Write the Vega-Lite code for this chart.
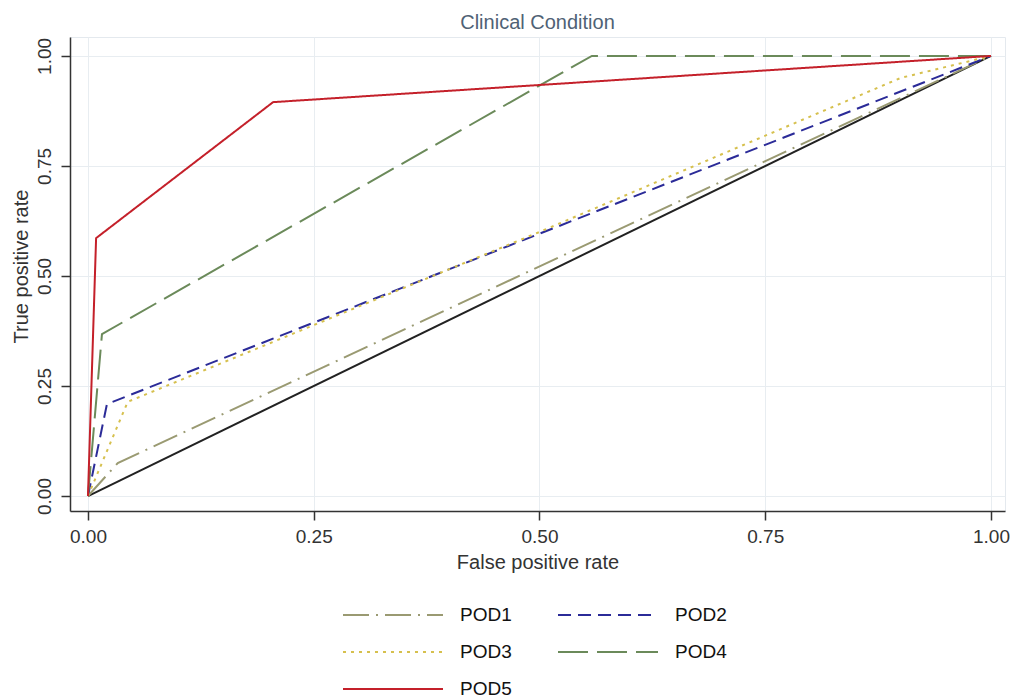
{
  "$schema": "https://vega.github.io/schema/vega-lite/v6.json",
  "width": 935,
  "height": 474,
  "autosize": {"type": "none"},
  "padding": {"left": 70, "top": 37, "right": 9, "bottom": 188},
  "background": "white",
  "title": {
    "text": "Clinical Condition",
    "fontSize": 20,
    "fontWeight": "normal",
    "color": "#4f6275",
    "font": "Liberation Sans",
    "anchor": "middle",
    "frame": "group",
    "baseline": "alphabetic",
    "offset": 9,
    "dy": 21
  },
  "config": {
    "font": "Liberation Sans",
    "view": {"stroke": "#e4e9ee", "strokeWidth": 1}
  },
  "encoding": {
    "x": {
      "field": "fpr",
      "type": "quantitative",
      "scale": {"domain": [-0.0199, 1.0155], "nice": false, "zero": false},
      "axis": {
        "title": "False positive rate",
        "values": [0, 0.25, 0.5, 0.75, 1],
        "format": ".2f",
        "grid": true,
        "gridColor": "#e8edf1",
        "gridWidth": 1,
        "domainColor": "#333333",
        "domainWidth": 1.5,
        "tickColor": "#333333",
        "tickWidth": 1.5,
        "tickSize": 9,
        "labelFlush": false,
        "labelFontSize": 19,
        "labelColor": "#333333",
        "labelPadding": 7,
        "labelBaseline": "top",
        "titleFontSize": 20,
        "titleFontWeight": "normal",
        "titleColor": "#333333",
        "titleY": 57,
        "titleBaseline": "alphabetic"
      }
    },
    "y": {
      "field": "tpr",
      "type": "quantitative",
      "scale": {"domain": [-0.034, 1.043], "nice": false, "zero": false},
      "axis": {
        "title": "True positive rate",
        "values": [0, 0.25, 0.5, 0.75, 1],
        "format": ".2f",
        "grid": true,
        "gridColor": "#e8edf1",
        "gridWidth": 1,
        "domainColor": "#333333",
        "domainWidth": 1.5,
        "tickColor": "#333333",
        "tickWidth": 1.5,
        "tickSize": 9,
        "labelFlush": false,
        "labelAngle": -90,
        "labelAlign": "center",
        "labelBaseline": "alphabetic",
        "labelFontSize": 19,
        "labelColor": "#333333",
        "labelPadding": 11,
        "titleFontSize": 20,
        "titleFontWeight": "normal",
        "titleColor": "#333333",
        "titleAngle": -90,
        "titleAlign": "center",
        "titleBaseline": "alphabetic",
        "titleX": -43,
        "titleY": 229
      }
    }
  },
  "layer": [
    {
      "data": {"values": [
        {"fpr": 0, "tpr": 0},
        {"fpr": 1, "tpr": 1}
      ]},
      "mark": {"type": "line", "color": "#222222", "strokeWidth": 2}
    },
    {
      "data": {"values": [
        {"curve": "POD1", "fpr": 0, "tpr": 0},
        {"curve": "POD1", "fpr": 0.033, "tpr": 0.075},
        {"curve": "POD1", "fpr": 1, "tpr": 1},
        {"curve": "POD2", "fpr": 0, "tpr": 0},
        {"curve": "POD2", "fpr": 0.021, "tpr": 0.209},
        {"curve": "POD2", "fpr": 1, "tpr": 1},
        {"curve": "POD3", "fpr": 0, "tpr": 0},
        {"curve": "POD3", "fpr": 0.044, "tpr": 0.214},
        {"curve": "POD3", "fpr": 0.5, "tpr": 0.6},
        {"curve": "POD3", "fpr": 0.9, "tpr": 0.95},
        {"curve": "POD3", "fpr": 1, "tpr": 1},
        {"curve": "POD4", "fpr": 0, "tpr": 0},
        {"curve": "POD4", "fpr": 0.0155, "tpr": 0.368},
        {"curve": "POD4", "fpr": 0.558, "tpr": 1},
        {"curve": "POD4", "fpr": 1, "tpr": 1},
        {"curve": "POD5", "fpr": 0, "tpr": 0},
        {"curve": "POD5", "fpr": 0.009, "tpr": 0.586},
        {"curve": "POD5", "fpr": 0.205, "tpr": 0.895},
        {"curve": "POD5", "fpr": 1, "tpr": 1}
      ]},
      "mark": {"type": "line", "strokeWidth": 2},
      "encoding": {
        "color": {
          "field": "curve",
          "type": "nominal",
          "scale": {
            "domain": ["POD1", "POD2", "POD3", "POD4", "POD5"],
            "range": ["#9a9a72", "#2b2b98", "#d6c04e", "#6b8a5a", "#c4202a"]
          },
          "legend": {
            "title": null,
            "orient": "none",
            "direction": "horizontal",
            "legendX": 272,
            "legendY": 568,
            "columns": 2,
            "symbolType": "stroke",
            "symbolSize": 10000,
            "symbolStrokeWidth": 2,
            "clipHeight": 20,
            "rowPadding": 17,
            "columnPadding": 45,
            "labelFontSize": 19,
            "labelColor": "#111111",
            "labelOffset": 16,
            "padding": 0
          }
        },
        "strokeDash": {
          "field": "curve",
          "type": "nominal",
          "scale": {
            "domain": ["POD1", "POD2", "POD3", "POD4", "POD5"],
            "range": [[26, 7, 2, 7], [13, 7], [3, 5], [30, 9], [1, 0]]
          },
          "legend": {
            "title": null,
            "orient": "none",
            "direction": "horizontal",
            "legendX": 272,
            "legendY": 568,
            "columns": 2,
            "symbolType": "stroke",
            "symbolSize": 10000,
            "symbolStrokeWidth": 2,
            "clipHeight": 20,
            "rowPadding": 17,
            "columnPadding": 45,
            "labelFontSize": 19,
            "labelColor": "#111111",
            "labelOffset": 16,
            "padding": 0
          }
        }
      }
    }
  ]
}
